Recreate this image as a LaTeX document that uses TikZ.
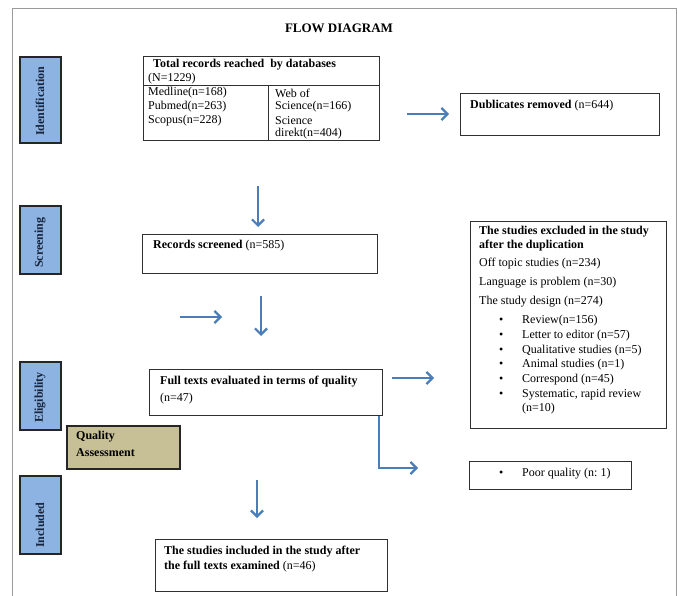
\documentclass[tikz,border=0pt]{standalone}
\usepackage{fontspec}
\setmainfont{Liberation Serif}
\usetikzlibrary{arrows.meta}
\definecolor{arrowblue}{HTML}{4A7EBB}
\definecolor{labelblue}{HTML}{8DB3E2}
\definecolor{tanfill}{HTML}{C7C096}
\definecolor{navy}{HTML}{17243B}
\definecolor{framegray}{HTML}{9A9A9A}
\definecolor{boxgray}{HTML}{303030}
\frenchspacing
\begin{document}
\begin{tikzpicture}[x=1pt,y=-1pt,
  box/.style={draw=boxgray, line width=1.1pt, anchor=north west, inner sep=0pt},
  stagebox/.style={draw=black!85, fill=labelblue, line width=1.6pt, anchor=north west, inner sep=0pt, minimum width=41pt},
  stagetext/.style={rotate=90, anchor=west, inner sep=0pt, text=navy, font=\bfseries\fontsize{12}{14}\selectfont},
  txt/.style={anchor=west, inner sep=0pt, font=\fontsize{12}{14}\selectfont},
  flow/.style={draw=arrowblue, line width=2.2pt, -{Straight Barb[length=6pt,width=12pt,line width=2.2pt]}},
]
\useasboundingbox (0,0) rectangle (677,596);
\draw[framegray, line width=0.8pt] (12,596) -- (12,8) -- (676,8) -- (676,596);

% title
\node[inner sep=0pt, font=\bfseries\fontsize{13}{15}\selectfont] (title) at (339,28) {FLOW DIAGRAM};

% stage labels
\node[stagebox, minimum height=86pt] (sid) at (19,56) {};
\node[stagetext] (sidt) at (40,136) {Identification};
\node[stagebox, minimum height=68pt] (sscr) at (19,205) {};
\node[stagetext] (sscrt) at (40,268) {Screening};
\node[stagebox, minimum height=68pt] (selig) at (19,361) {};
\node[stagetext] (seligt) at (40,423) {Eligibility};
\node[stagebox, minimum height=78pt] (sincl) at (19,475) {};
\node[stagetext] (sinclt) at (40,548) {Included};

% quality assessment
\node[draw=black!85, fill=tanfill, line width=1.6pt, anchor=north west, inner sep=0pt,
      minimum width=113pt, minimum height=43pt] (qa) at (66,425) {};
\node[txt, font=\bfseries\fontsize{12}{14}\selectfont] (qat1) at (76,437) {Quality};
\node[txt, font=\bfseries\fontsize{12}{14}\selectfont] (qat2) at (76,453) {Assessment};

% total records table
\node[box, minimum width=236pt, minimum height=84pt] (total) at (143,56) {};
\coordinate (rowl) at (143,86);
\coordinate (rowr) at (379,86);
\coordinate (colt) at (268,86);
\coordinate (colb) at (268,140);
\draw[draw=boxgray, line width=1pt] (rowl) -- (rowr);
\draw[draw=boxgray, line width=1pt] (colt) -- (colb);
\node[txt] (tt1) at (153,65) {\textbf{Total records reached\ \ by databases}};
\node[txt] (tt2) at (148,79) {(N=1229)};
\node[txt] (tc1) at (148,93) {Medline(n=168)};
\node[txt] (tc2) at (148,107) {Pubmed(n=263)};
\node[txt] (tc3) at (148,121) {Scopus(n=228)};
\node[txt] (td1) at (275,93) {Web of};
\node[txt] (td2) at (275,107) {Science(n=166)};
\node[txt] (td3) at (275,121) {Science};
\node[txt] (td4) at (275,134) {direkt(n=404)};

% duplicates
\node[box, minimum width=199pt, minimum height=42pt] (dup) at (460,93) {};
\node[txt] (dupt) at (470,106) {\textbf{Dublicates removed} (n=644)};

% records screened
\node[box, minimum width=235pt, minimum height=39pt] (scr) at (142,234) {};
\node[txt] (scrt) at (153,246) {\textbf{Records screened} (n=585)};

% excluded
\node[box, minimum width=196pt, minimum height=207pt] (exc) at (470,221) {};
\node[txt] (ex1) at (479,232) {\textbf{The studies excluded in the study}};
\node[txt] (ex2) at (479,246) {\textbf{after the duplication}};
\node[txt] (ex3) at (479,264) {Off topic studies (n=234)};
\node[txt] (ex4) at (479,283) {Language is problem (n=30)};
\node[txt] (ex5) at (479,302) {The study design (n=274)};
\node[txt] (eb1) at (499,321) {\textbullet};
\node[txt] (ei1) at (522,321) {Review(n=156)};
\node[txt] (eb2) at (499,336) {\textbullet};
\node[txt] (ei2) at (522,336) {Letter to editor (n=57)};
\node[txt] (eb3) at (499,351) {\textbullet};
\node[txt] (ei3) at (522,351) {Qualitative studies (n=5)};
\node[txt] (eb4) at (499,365) {\textbullet};
\node[txt] (ei4) at (522,365) {Animal studies (n=1)};
\node[txt] (eb5) at (499,380) {\textbullet};
\node[txt] (ei5) at (522,380) {Correspond (n=45)};
\node[txt] (eb6) at (499,395) {\textbullet};
\node[txt] (ei6) at (522,395) {Systematic, rapid review};
\node[txt] (ei7) at (522,409) {(n=10)};

% full texts
\node[box, minimum width=233pt, minimum height=46pt] (ft) at (149,369) {};
\node[txt] (ftt1) at (160,382) {\textbf{Full texts evaluated in terms of quality}};
\node[txt] (ftt2) at (160,399) {(n=47)};

% poor quality
\node[box, minimum width=162pt, minimum height=28pt] (poor) at (469,461) {};
\node[txt] (pb) at (499,474) {\textbullet};
\node[txt] (pt) at (522,474) {Poor quality (n: 1)};

% included
\node[box, minimum width=232pt, minimum height=52pt] (inc) at (155,539) {};
\node[txt] (inct1) at (164,552) {\textbf{The studies included in the study after}};
\node[txt] (inct2) at (164,567) {\textbf{the full texts examined} (n=46)};

% arrows
\coordinate (a1s) at (407,114); \coordinate (a1e) at (449,114);
\coordinate (a2s) at (258,186); \coordinate (a2e) at (258,227);
\coordinate (a3s) at (180,317); \coordinate (a3e) at (222,317);
\coordinate (a4s) at (261,296); \coordinate (a4e) at (261,336);
\coordinate (a5s) at (392,378); \coordinate (a5e) at (434,378);
\coordinate (a6e) at (418,468);
\coordinate (a7s) at (257,480); \coordinate (a7e) at (257,518);
\draw[flow] (a1s) -- (a1e);
\draw[flow] (a2s) -- (a2e);
\draw[flow] (a3s) -- (a3e);
\draw[flow] (a4s) -- (a4e);
\draw[flow] (a5s) -- (a5e);
\draw[flow] ([xshift=-4pt]ft.south east) |- (a6e);
\draw[flow] (a7s) -- (a7e);
\end{tikzpicture}
\end{document}
